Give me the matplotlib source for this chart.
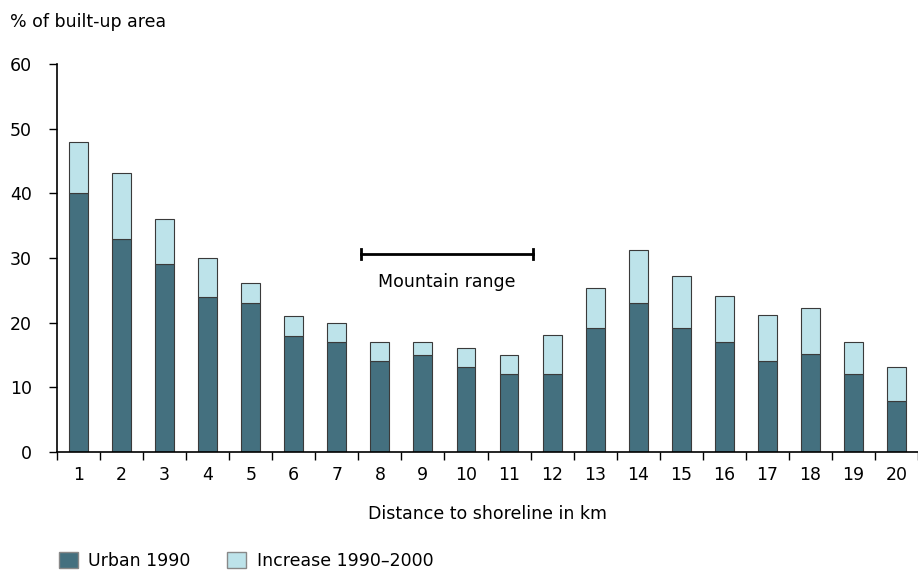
import matplotlib
matplotlib.use("Agg")
import matplotlib.pyplot as plt
from matplotlib.patches import Patch

distances = list(range(1, 21))
urban_1990 = [40, 33, 29, 24, 23, 18, 17, 14, 15, 13.2, 12, 12, 19.2, 23, 19.2, 17, 14, 15.1, 12.1, 7.9]
total_2000 = [48, 43.2, 36.1, 30, 26.1, 21, 20, 17, 17, 16.1, 15, 18.1, 25.3, 31.2, 27.2, 24.1, 21.2, 22.2, 17, 13.2]
increase = [t - u for t, u in zip(total_2000, urban_1990)]

mountain_from = 7.55
mountain_to = 11.55
mountain_level = 30.6
mountain_label = "Mountain range"

URBAN_COL = "#44707f"
INC_COL = "#bde3ea"
EDGE = "#3a3a3a"

FS = 12.5
plt.rcParams["font.family"] = ["DejaVu Sans"]
plt.rcParams["font.size"] = FS

fig = plt.figure(figsize=(9.18, 5.7), dpi=100)
ax = fig.add_axes([57 / 918, 118 / 570, 1 - 57 / 918, 388 / 570])

ax.bar(distances, urban_1990, width=0.44, color=URBAN_COL, edgecolor=EDGE, linewidth=0.8, zorder=2)
ax.bar(distances, increase, bottom=urban_1990, width=0.44, color=INC_COL, edgecolor=EDGE, linewidth=0.8, zorder=2)

ax.set_xlim(0.5, 20.42)
ax.set_ylim(0, 60)

ax.set_xticks([d - 0.5 for d in distances] + [20.5])
ax.set_xticklabels([])
ax.set_xticks(distances, minor=True)
ax.set_xticklabels([str(d) for d in distances], minor=True)
ax.tick_params(axis="x", which="major", direction="out", length=6, width=1, color="black")
ax.tick_params(axis="x", which="minor", length=0, pad=10, labelsize=FS)

ax.set_yticks([0, 10, 20, 30, 40, 50, 60])
ax.tick_params(axis="y", direction="out", length=6, width=1, pad=12, labelsize=FS)

for s in ["top", "right"]:
    ax.spines[s].set_visible(False)
ax.spines["left"].set_linewidth(1.2)
ax.spines["bottom"].set_linewidth(1.2)

# mountain range marker
ax.plot([mountain_from, mountain_to], [mountain_level, mountain_level], color="black", lw=2, zorder=3)
ax.plot([mountain_from, mountain_from], [mountain_level - 0.8, mountain_level + 0.8], color="black", lw=2)
ax.plot([mountain_to, mountain_to], [mountain_level - 0.8, mountain_level + 0.8], color="black", lw=2)
ax.text((mountain_from + mountain_to) / 2, mountain_level - 2.9, mountain_label, ha="center", va="top")

ax.set_xlabel("Distance to shoreline in km", labelpad=15)
fig.text(10 / 918, 1 - 22 / 570, "% of built-up area", ha="left", va="center")

handles = [Patch(facecolor=URBAN_COL, edgecolor="#888888", label="Urban 1990"),
           Patch(facecolor=INC_COL, edgecolor="#888888", label="Increase 1990\u20132000")]
fig.legend(handles=handles, loc="lower left", bbox_to_anchor=(52 / 918, -0.012), ncol=2,
           frameon=False, handlelength=1.1, handleheight=1.1, handletextpad=0.6, columnspacing=2.1,
           borderaxespad=0)

fig.savefig("out.png", dpi=100)
